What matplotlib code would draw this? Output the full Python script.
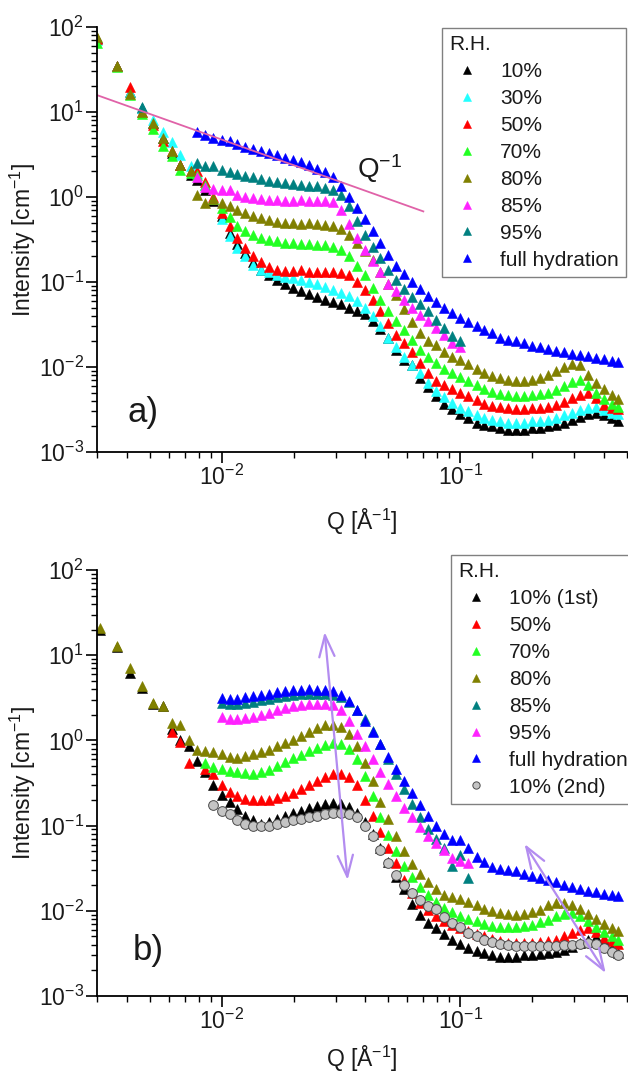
import matplotlib.pyplot as plt
from matplotlib.ticker import LogLocator, NullFormatter

plt.rcParams['font.family'] = ['Liberation Sans', 'DejaVu Sans']
plt.rcParams['mathtext.fontset'] = 'custom'
plt.rcParams['mathtext.rm'] = 'Liberation Sans'
plt.rcParams['mathtext.it'] = 'Liberation Sans:italic'
plt.rcParams['mathtext.default'] = 'regular'
plt.rcParams['axes.unicode_minus'] = False

# ---------------- data ----------------
# Q grid of the medium / high Q detector settings (shared by most series)
q = [0.0079, 0.0085, 0.0092, 0.0100, 0.0108, 0.0116, 0.0125, 0.0135, 0.0146, 0.0158,
     0.0170, 0.0184, 0.0199, 0.0215, 0.0232, 0.0250, 0.0270, 0.0292, 0.0315, 0.0340,
     0.0368, 0.0397, 0.0429, 0.0463, 0.0500, 0.0540, 0.0583, 0.0630, 0.0680, 0.0735,
     0.0793, 0.0857, 0.0925, 0.0999, 0.108, 0.117, 0.126, 0.136, 0.147, 0.159,
     0.171, 0.185, 0.200, 0.216, 0.233, 0.252, 0.272, 0.294, 0.317, 0.343,
     0.370, 0.400, 0.432, 0.460]

# panel a) low Q setting
q_lo_a = [0.0030, 0.00365, 0.00413, 0.00464, 0.00516, 0.00569, 0.0062, 0.0067, 0.0074]
i10_lo_a = [74, 35, 17, 11, 7.5, 5.0, 3.3, 2.4, 1.8]
i30_lo_a = [70, 35, 17, 11, 8.0, 5.8, 4.4, 3.1, 2.3]
i50_lo_a = [72, 35, 19.5, 10, 7.0, 4.6, 3.5, 2.4, 2.0]
i70_lo_a = [64, 34, 16, 9.5, 6.3, 4.0, 3.0, 2.1, 1.9]
i80_lo_a = [77, 35, 16.5, 10, 7.4, 5.0, 3.5, 2.4, 2.0]

# panel a) on grid q
i10_a = [1.6, 1.2, 0.9, 0.6, 0.38, 0.28, 0.22, 0.17, 0.14, 0.12,
         0.105, 0.095, 0.086, 0.078, 0.073, 0.067, 0.062, 0.058, 0.055, 0.050,
         0.046, 0.042, 0.035, 0.028, 0.022, 0.016, 0.012, 0.0105, 0.0075, 0.0058,
         0.0046, 0.0037, 0.0032, 0.0028, 0.0025, 0.0022, 0.0021, 0.0020, 0.0019, 0.0018,
         0.0018, 0.0018, 0.0019, 0.0019, 0.0020, 0.0021, 0.0022, 0.0024, 0.0026, 0.0028,
         0.0029, 0.0027, 0.0025, 0.0023]
i30_a = [1.9, 1.4, 0.95, 0.55, 0.35, 0.25, 0.20, 0.16, 0.14, 0.13,
         0.12, 0.115, 0.11, 0.105, 0.10, 0.094, 0.088, 0.081, 0.074, 0.068,
         0.060, 0.050, 0.040, 0.030, 0.022, 0.017, 0.013, 0.0105, 0.0085, 0.0065,
         0.0052, 0.0044, 0.0038, 0.0033, 0.0030, 0.0027, 0.0025, 0.0024, 0.0023, 0.0022,
         0.0022, 0.0022, 0.0023, 0.0023, 0.0024, 0.0025, 0.0027, 0.0029, 0.0031, 0.0033,
         0.0034, 0.0031, 0.0029, 0.0028]
i50_a = [2.0, 1.5, 1.0, 0.65, 0.45, 0.33, 0.25, 0.20, 0.17, 0.15,
         0.14, 0.135, 0.135, 0.137, 0.132, 0.13, 0.131, 0.13, 0.127, 0.12,
         0.10, 0.08, 0.062, 0.045, 0.033, 0.024, 0.019, 0.015, 0.011, 0.0085,
         0.0068, 0.0062, 0.0055, 0.0050, 0.0046, 0.0041, 0.0037, 0.0035, 0.0034, 0.0033,
         0.0032, 0.0032, 0.0033, 0.0033, 0.0034, 0.0036, 0.0039, 0.0043, 0.0047, 0.0049,
         0.0043, 0.0036, 0.0033, 0.0032]
i70_a = [1.8, 1.4, 0.95, 0.75, 0.58, 0.45, 0.40, 0.36, 0.33, 0.31,
         0.30, 0.29, 0.285, 0.28, 0.28, 0.275, 0.27, 0.26, 0.24, 0.20,
         0.155, 0.12, 0.085, 0.062, 0.045, 0.035, 0.027, 0.021, 0.016, 0.013,
         0.011, 0.0095, 0.0085, 0.0076, 0.0068, 0.0061, 0.0055, 0.0051, 0.0048, 0.0047,
         0.0046, 0.0046, 0.0047, 0.0048, 0.0050, 0.0054, 0.0060, 0.0067, 0.0070, 0.0062,
         0.0050, 0.0042, 0.0037, 0.0034]
i80_a = [1.05, 0.85, 0.95, 0.85, 0.78, 0.70, 0.64, 0.60, 0.56, 0.53,
         0.51, 0.50, 0.49, 0.48, 0.49, 0.48, 0.47, 0.45, 0.42, 0.36,
         0.29, 0.23, 0.18, 0.13, 0.095, 0.070, 0.048, 0.034, 0.025, 0.020,
         0.018, 0.015, 0.013, 0.012, 0.0108, 0.0095, 0.0086, 0.0079, 0.0074, 0.0071,
         0.0069, 0.0069, 0.0071, 0.0074, 0.0080, 0.0090, 0.0100, 0.0108, 0.0105, 0.0080,
         0.0065, 0.0055, 0.0047, 0.0042]
# 85 % and 95 % only measured up to ~0.1 (q[:34])
i85_a = [1.7, 1.3, 1.25, 1.2, 1.2, 1.05, 1.0, 0.97, 0.94, 0.92,
         0.91, 0.90, 0.90, 0.91, 0.90, 0.90, 0.90, 0.88, 0.70, 0.48,
         0.33, 0.24, 0.175, 0.13, 0.095, 0.078, 0.062, 0.050, 0.041, 0.035,
         0.029, 0.024, 0.019, 0.017]
i95_a = [2.5, 2.3, 2.3, 2.1, 1.95, 1.85, 1.78, 1.70, 1.62, 1.56,
         1.50, 1.47, 1.44, 1.40, 1.36, 1.33, 1.29, 1.22, 1.05, 0.78,
         0.52, 0.36, 0.26, 0.19, 0.14, 0.105, 0.082, 0.066, 0.055, 0.045,
         0.036, 0.029, 0.023, 0.020]
ifull_a = [5.8, 5.4, 5.0, 4.7, 4.5, 4.2, 3.9, 3.7, 3.5, 3.3,
           3.1, 2.9, 2.75, 2.55, 2.35, 2.15, 1.95, 1.70, 1.35, 1.0,
           0.74, 0.55, 0.40, 0.29, 0.21, 0.155, 0.125, 0.10, 0.083, 0.068,
           0.058, 0.050, 0.043, 0.038, 0.034, 0.030, 0.027, 0.025, 0.022, 0.021,
           0.020, 0.019, 0.0178, 0.0170, 0.0163, 0.0155, 0.0150, 0.0143, 0.0138, 0.0133,
           0.0128, 0.0123, 0.0119, 0.0116]

# Q^-1 guide line
guide_q = [0.003, 0.07]
guide_i = [15.8, 0.677]

# panel b) low Q setting
q_lo_b = [0.0031, 0.00363, 0.00411, 0.00462, 0.00514, 0.00566, 0.0062, 0.0067, 0.0073]
i10_lo_b = [20.0, 12.5, 6.2, 4.1, 2.7, 2.5, 1.35, 1.0, 0.85]
i80_lo_b = [20.8, 12.8, 7.1, 4.35, 2.75, 2.55, 1.6, 1.5, 1.0]
i50_lo_b = [1.25, 0.95, 0.55]          # on q_lo_b[6:]

# panel b) on grid q
i10_b = [0.58, 0.42, 0.30, 0.23, 0.19, 0.155, 0.13, 0.115, 0.105, 0.11,
         0.12, 0.13, 0.14, 0.15, 0.16, 0.17, 0.18, 0.185, 0.18, 0.165,
         0.14, 0.11, 0.08, 0.055, 0.037, 0.025, 0.018, 0.012, 0.0090, 0.0072,
         0.0062, 0.0053, 0.0046, 0.0041, 0.0037, 0.0034, 0.0032, 0.0030, 0.0029, 0.0029,
         0.0029, 0.0030, 0.0030, 0.0031, 0.0032, 0.0033, 0.0035, 0.0038, 0.0042, 0.0046,
         0.0049, 0.0045, 0.0037, 0.0032]
i50_b = [0.46, 0.40, 0.30, 0.25, 0.22, 0.205, 0.20, 0.20, 0.20, 0.21,          # q[1:]
         0.225, 0.24, 0.27, 0.30, 0.33, 0.37, 0.40, 0.40, 0.37, 0.30,
         0.20, 0.13, 0.085, 0.055, 0.036, 0.023, 0.016, 0.0125, 0.0102, 0.0088,
         0.0076, 0.0068, 0.0062, 0.0058, 0.0054, 0.0050, 0.0047, 0.0044, 0.0042, 0.0042,
         0.0042, 0.0042, 0.0043, 0.0044, 0.0046, 0.0050, 0.0055, 0.0060, 0.0063, 0.0056,
         0.0048, 0.0044, 0.0041]
i70_b = [0.55, 0.49, 0.46, 0.44, 0.43, 0.41, 0.40, 0.42, 0.45, 0.50,           # q[1:]
         0.56, 0.62, 0.68, 0.75, 0.82, 0.88, 0.92, 0.90, 0.80, 0.60,
         0.38, 0.22, 0.125, 0.078, 0.050, 0.034, 0.025, 0.019, 0.0155, 0.0128,
         0.0108, 0.0096, 0.0088, 0.0081, 0.0075, 0.0070, 0.0067, 0.0065, 0.0064, 0.0064,
         0.0066, 0.0069, 0.0073, 0.0079, 0.0086, 0.0092, 0.0094, 0.0088, 0.0076, 0.0064,
         0.0057, 0.0050, 0.0046]
i80_b = [0.78, 0.76, 0.74, 0.70, 0.64, 0.62, 0.66, 0.70, 0.74, 0.78,
         0.85, 0.92, 1.02, 1.12, 1.25, 1.38, 1.50, 1.52, 1.45, 1.20,
         0.85, 0.55, 0.33, 0.19, 0.12, 0.075, 0.050, 0.035, 0.027, 0.0215,
         0.018, 0.0155, 0.0145, 0.0138, 0.0128, 0.0116, 0.0106, 0.0099, 0.0094, 0.0091,
         0.0090, 0.0092, 0.0096, 0.0102, 0.0118, 0.0125, 0.0124, 0.0116, 0.0104, 0.0092,
         0.0080, 0.0070, 0.0063, 0.0058]
i85_b = [2.75, 2.7, 2.7, 2.75, 2.85, 3.0, 3.1, 3.25, 3.35, 3.45,                # q[3:35]
         3.5, 3.55, 3.55, 3.5, 3.4, 3.2, 2.8, 2.3, 1.8, 1.3,
         0.9, 0.6, 0.40, 0.27, 0.18, 0.125, 0.09, 0.07, 0.055, 0.034,
         0.045, 0.024]
i95_b = [1.88, 1.80, 1.78, 1.82, 1.90, 2.0, 2.1, 2.25, 2.4, 2.5,               # q[3:35]
         2.6, 2.65, 2.7, 2.68, 2.6, 2.3, 1.7, 1.2, 0.85, 0.60,
         0.43, 0.31, 0.22, 0.16, 0.125, 0.095, 0.075, 0.062, 0.052, 0.042,
         0.038, 0.036]
ifull_b = [3.15, 3.1, 3.1, 3.2, 3.3, 3.4, 3.5, 3.65, 3.8, 3.9,                 # q[3:]
           3.95, 4.0, 3.95, 3.9, 3.75, 3.4, 2.9, 2.3, 1.7, 1.25,
           0.90, 0.64, 0.46, 0.33, 0.24, 0.175, 0.13, 0.10, 0.080, 0.068,
           0.068, 0.055, 0.043, 0.037, 0.033, 0.031, 0.030, 0.029, 0.027, 0.0255,
           0.024, 0.023, 0.0215, 0.020, 0.019, 0.018, 0.0172, 0.0165, 0.0158, 0.0153,
           0.0148]
i10b2_b = [0.175, 0.15, 0.135, 0.115, 0.105, 0.10, 0.10, 0.10, 0.105, 0.11,     # q[2:]
           0.115, 0.12, 0.125, 0.13, 0.135, 0.14, 0.14, 0.135, 0.125, 0.10,
           0.075, 0.052, 0.036, 0.026, 0.020, 0.016, 0.0135, 0.0115, 0.0105, 0.0085,
           0.0072, 0.0064, 0.0055, 0.0050, 0.0046, 0.0043, 0.0041, 0.0040, 0.0039, 0.0039,
           0.0039, 0.0039, 0.0039, 0.0039, 0.0040, 0.0040, 0.0041, 0.0042, 0.0041, 0.0037,
           0.0033, 0.0030]

# double arrows in panel b (tail, head)
arrow1 = [(0.0337, 0.023), (0.0270, 18.7)]
arrow2 = [(0.407, 0.00186), (0.186, 0.0608)]

c_black, c_cyan, c_red, c_green = '#000000', '#22ffff', '#ff0000', '#22ff22'
c_olive, c_magenta, c_teal, c_blue = '#808000', '#ff22ff', '#008080', '#0000ff'
TXT = '#1a1a1a'

fig = plt.figure(figsize=(6.28, 10.77), dpi=100)
ax_a = fig.add_axes([97/628, 1-452/1077, 530/628, 425/1077])
ax_b = fig.add_axes([97/628, 1-996/1077, 530/628, 426/1077])


def tri(ax, x, y, c, lab):
    ax.plot(x, y, ls='none', marker='^', ms=7.3, mfc=c, mec=c, mew=0.4, label=lab)


# panel a)
tri(ax_a, q_lo_a + q, i10_lo_a + i10_a, c_black, '10%')
tri(ax_a, q_lo_a + q, i30_lo_a + i30_a, c_cyan, '30%')
tri(ax_a, q_lo_a + q, i50_lo_a + i50_a, c_red, '50%')
tri(ax_a, q_lo_a + q, i70_lo_a + i70_a, c_green, '70%')
tri(ax_a, q_lo_a + q, i80_lo_a + i80_a, c_olive, '80%')
tri(ax_a, q[:34], i85_a, c_magenta, '85%')
tri(ax_a, [0.00464] + q[:34], [11.5] + i95_a, c_teal, '95%')
tri(ax_a, q, ifull_a, c_blue, 'full hydration')
ax_a.plot(guide_q, guide_i, color='#e062a8', lw=1.3)
ax_a.text(0.0458, 2.15, 'Q$^{-1}$', fontsize=20, color=TXT, ha='center', va='center')
ax_a.text(0.087, 0.092, 'a)', transform=ax_a.transAxes, fontsize=25, color=TXT,
          ha='center', va='center')

# panel b)
tri(ax_b, q_lo_b + q, i10_lo_b + i10_b, c_black, '10% (1st)')
tri(ax_b, q_lo_b[6:] + q[1:], i50_lo_b + i50_b, c_red, '50%')
tri(ax_b, q[1:], i70_b, c_green, '70%')
tri(ax_b, q_lo_b + q, i80_lo_b + i80_b, c_olive, '80%')
tri(ax_b, q[3:35], i85_b, c_teal, '85%')
tri(ax_b, q[3:35], i95_b, c_magenta, '95%')
tri(ax_b, q[3:], ifull_b, c_blue, 'full hydration')
ax_b.plot(q[2:], i10b2_b, ls='none', marker='o', ms=7, mfc='#c4c4c4', mec='#4a4a4a',
          mew=0.7, label='10% (2nd)')
for a in (arrow1, arrow2):
    ax_b.annotate('', xy=a[1], xytext=a[0], zorder=5,
                  arrowprops=dict(arrowstyle='<->,head_length=0.7,head_width=0.25',
                                  color='#b38cf0', lw=1.6, shrinkA=0, shrinkB=0,
                                  mutation_scale=22))
ax_b.text(0.096, 0.106, 'b)', transform=ax_b.transAxes, fontsize=25, color=TXT,
          ha='center', va='center')

for ax, top in ((ax_a, 28), (ax_b, 555)):
    ax.set_xscale('log')
    ax.set_yscale('log')
    ax.set_xlim(0.003, 0.5)
    ax.set_ylim(1e-3, 1e2)
    for s in ['top', 'right']:
        ax.spines[s].set_visible(False)
    for s in ['left', 'bottom']:
        ax.spines[s].set_linewidth(1.3)
    for axis in (ax.xaxis, ax.yaxis):
        axis.set_major_locator(LogLocator(base=10, numticks=20))
        axis.set_minor_locator(LogLocator(base=10, subs=range(2, 10), numticks=100))
        axis.set_minor_formatter(NullFormatter())
    ax.tick_params(which='major', direction='out', length=8, width=1.2,
                   labelsize=16.5, labelcolor=TXT, pad=1.5)
    ax.tick_params(which='minor', direction='out', length=4.5, width=1.0)
    ax.set_xlabel('Q [Å$^{-1}$]', fontsize=16.5, color=TXT)
    ax.set_ylabel('Intensity [cm$^{-1}$]', fontsize=16.5, color=TXT)
    ax.yaxis.set_label_coords(-0.112, 0.5)
    ax.xaxis.set_label_coords(0.5, -0.128 if ax is ax_a else -0.112)
    left = 442 if ax is ax_a else 451
    leg = ax.legend(title='R.H.', loc='upper left', alignment='left',
                    bbox_to_anchor=(left/628, 1-top/1077), bbox_transform=fig.transFigure,
                    borderaxespad=0, fontsize=15, title_fontsize=15, frameon=True,
                    fancybox=False, edgecolor='#808080', framealpha=1, markerscale=0.75,
                    borderpad=0.35, handlelength=1.7, handletextpad=0.75,
                    labelspacing=0.38)
    leg.get_frame().set_linewidth(1.0)
    for t in leg.get_texts():
        t.set_color(TXT)
    leg.get_title().set_color(TXT)

fig.savefig('out.png', dpi=100)
